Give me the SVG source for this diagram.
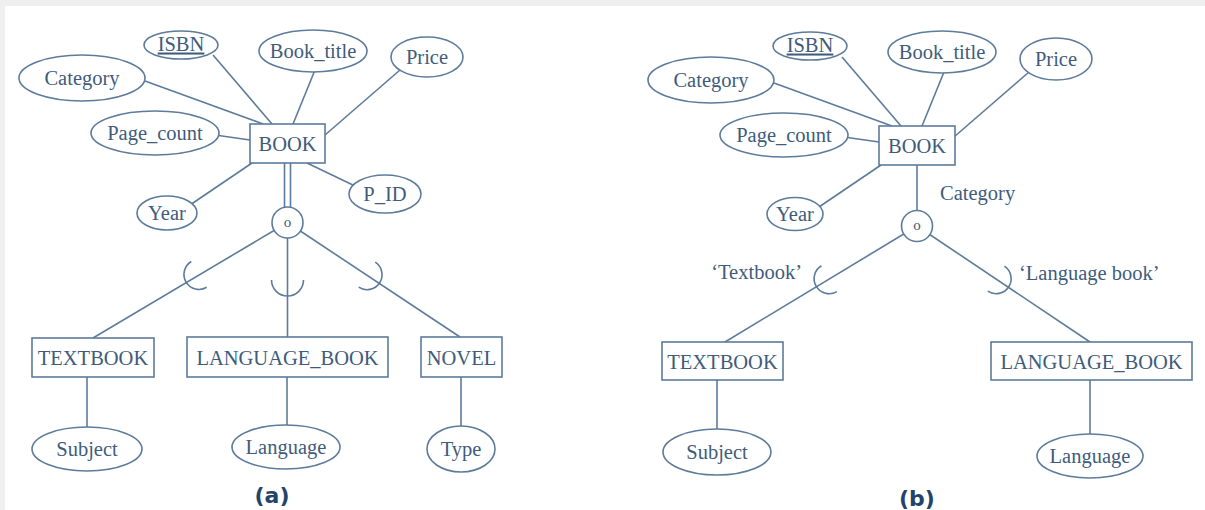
<svg xmlns="http://www.w3.org/2000/svg" width="1205" height="510" viewBox="0 0 1205 510">
<style>
.bg{fill:#ffffff}
.frame{fill:#efefef}
.ln{stroke:#5d7b9b;stroke-width:1.6;fill:none}
.sh{stroke:#5d7b9b;stroke-width:1.6;fill:#ffffff}
.t{font-family:"Liberation Serif","Times New Roman",serif;font-size:20.5px;fill:#405c7a;text-anchor:middle}
.lt{font-family:"Liberation Serif","Times New Roman",serif;font-size:20.5px;fill:#405c7a}
.o{font-family:"Liberation Serif","Times New Roman",serif;font-size:15px;fill:#405c7a;text-anchor:middle}
.cap{font-family:"DejaVu Sans","Verdana",sans-serif;font-size:22px;font-weight:bold;fill:#24436a;text-anchor:middle}
</style>
<rect class="bg" x="0" y="0" width="1205" height="510"/>
<rect class="frame" x="0" y="0" width="1205" height="6"/>
<rect class="frame" x="0" y="0" width="5" height="510"/>

<g id="connectors">
  <!-- (a) attributes -->
  <line class="ln" x1="145" y1="81" x2="263" y2="124"/>
  <line class="ln" x1="213" y1="55" x2="272" y2="124"/>
  <line class="ln" x1="315" y1="70" x2="293" y2="124"/>
  <line class="ln" x1="400" y1="70" x2="325" y2="135"/>
  <line class="ln" x1="215" y1="135" x2="250" y2="140"/>
  <line class="ln" x1="190" y1="205" x2="252" y2="163"/>
  <line class="ln" x1="355" y1="186" x2="307" y2="163"/>
  <!-- (a) double line BOOK to circle -->
  <line class="ln" x1="284.5" y1="163" x2="284.5" y2="208"/>
  <line class="ln" x1="290.5" y1="163" x2="290.5" y2="208"/>
  <!-- (a) specialization lines -->
  <line class="ln" x1="287.5" y1="222.5" x2="93" y2="338"/>
  <line class="ln" x1="287.5" y1="222.5" x2="287.5" y2="337"/>
  <line class="ln" x1="287.5" y1="222.5" x2="460" y2="337"/>
  <!-- (a) subset cups -->
  <path class="ln" d="M191.3,261.5 A15,15 0 0 0 206.7,287.3"/>
  <path class="ln" d="M271.5,280 A16,16 0 0 0 303.5,280"/>
  <path class="ln" d="M375.3,262.2 A15,15 0 0 1 358.7,287.2"/>
  <!-- (a) subclass attributes -->
  <line class="ln" x1="87" y1="377" x2="87" y2="428"/>
  <line class="ln" x1="287" y1="377" x2="287" y2="426"/>
  <line class="ln" x1="461" y1="377" x2="461" y2="427"/>

  <!-- (b) attributes -->
  <line class="ln" x1="774" y1="83" x2="892" y2="126"/>
  <line class="ln" x1="842" y1="57" x2="901" y2="126"/>
  <line class="ln" x1="944" y1="72" x2="922" y2="126"/>
  <line class="ln" x1="1029" y1="72" x2="954" y2="137"/>
  <line class="ln" x1="844" y1="137" x2="879" y2="142"/>
  <line class="ln" x1="819" y1="207" x2="881" y2="165"/>
  <!-- (b) single line BOOK to circle -->
  <line class="ln" x1="917" y1="165" x2="917" y2="211"/>
  <!-- (b) specialization lines -->
  <line class="ln" x1="917" y1="226" x2="725" y2="342"/>
  <line class="ln" x1="917" y1="226" x2="1090" y2="342"/>
  <!-- (b) subset cups -->
  <path class="ln" d="M821.4,265.8 A15,15 0 0 0 836.9,291.6"/>
  <path class="ln" d="M1004.4,266.2 A15,15 0 0 1 987.8,291.2"/>
  <!-- (b) subclass attributes -->
  <line class="ln" x1="717" y1="380" x2="717" y2="430"/>
  <line class="ln" x1="1090" y1="380" x2="1090" y2="435"/>
</g>

<!-- ===== (a) ===== -->
<g id="a-book"><rect class="sh" x="250" y="124" width="75" height="39"/><text class="t" x="287.5" y="150.5">BOOK</text></g>
<g id="a-isbn"><ellipse class="sh" cx="181" cy="45" rx="37" ry="14"/><text class="t" x="181" y="50.5" text-decoration="underline">ISBN</text></g>
<g id="a-booktitle"><ellipse class="sh" cx="313" cy="51" rx="54" ry="21"/><text class="t" x="313" y="57.5">Book_title</text></g>
<g id="a-price"><ellipse class="sh" cx="427" cy="57" rx="36" ry="20"/><text class="t" x="427" y="63.5">Price</text></g>
<g id="a-category"><ellipse class="sh" cx="82" cy="78" rx="63" ry="23"/><text class="t" x="82" y="84.5">Category</text></g>
<g id="a-pagecount"><ellipse class="sh" cx="155" cy="133" rx="64" ry="22"/><text class="t" x="155" y="139.5">Page_count</text></g>
<g id="a-year"><ellipse class="sh" cx="167" cy="213" rx="30" ry="17"/><text class="t" x="167" y="219.5">Year</text></g>
<g id="a-pid"><ellipse class="sh" cx="385" cy="194" rx="36" ry="19"/><text class="t" x="385" y="200.5">P_ID</text></g>
<g id="a-overlap"><circle class="sh" cx="287.5" cy="222.5" r="15.5"/><text class="o" x="287.5" y="226.5">o</text></g>
<g id="a-textbook"><rect class="sh" x="32" y="338" width="122" height="39"/><text class="t" x="93" y="364.5">TEXTBOOK</text></g>
<g id="a-languagebook"><rect class="sh" x="187" y="337" width="201" height="40"/><text class="t" x="287.5" y="364.5">LANGUAGE_BOOK</text></g>
<g id="a-novel"><rect class="sh" x="421" y="337" width="81" height="40"/><text class="t" x="461.5" y="364.5">NOVEL</text></g>
<g id="a-subject"><ellipse class="sh" cx="87" cy="449" rx="55" ry="22"/><text class="t" x="87" y="455.5">Subject</text></g>
<g id="a-language"><ellipse class="sh" cx="286" cy="447" rx="54" ry="22"/><text class="t" x="286" y="453.5">Language</text></g>
<g id="a-type"><ellipse class="sh" cx="461" cy="449" rx="34" ry="23"/><text class="t" x="461" y="455.5">Type</text></g>
<g id="a-caption"><text class="cap" x="272" y="503">(a)</text></g>

<!-- ===== (b) ===== -->
<g id="b-book"><rect class="sh" x="879" y="126" width="76" height="39"/><text class="t" x="917" y="152.5">BOOK</text></g>
<g id="b-isbn"><ellipse class="sh" cx="810" cy="46" rx="37" ry="14"/><text class="t" x="810" y="51.5" text-decoration="underline">ISBN</text></g>
<g id="b-booktitle"><ellipse class="sh" cx="942" cy="52" rx="54" ry="21"/><text class="t" x="942" y="58.5">Book_title</text></g>
<g id="b-price"><ellipse class="sh" cx="1056" cy="59" rx="36" ry="21"/><text class="t" x="1056" y="65.5">Price</text></g>
<g id="b-category"><ellipse class="sh" cx="711" cy="80" rx="63" ry="23"/><text class="t" x="711" y="86.5">Category</text></g>
<g id="b-pagecount"><ellipse class="sh" cx="784" cy="135" rx="64" ry="22"/><text class="t" x="784" y="141.5">Page_count</text></g>
<g id="b-year"><ellipse class="sh" cx="795" cy="214" rx="28" ry="16.5"/><text class="t" x="795" y="220.5">Year</text></g>
<g id="b-catlabel"><text class="lt" x="940" y="200">Category</text></g>
<g id="b-overlap"><circle class="sh" cx="917" cy="226" r="15.5"/><text class="o" x="917" y="230">o</text></g>
<g id="b-textbook-label"><text class="lt" x="802" y="279" text-anchor="end">‘Textbook’</text></g>
<g id="b-langbook-label"><text class="lt" x="1019" y="280">‘Language book’</text></g>
<g id="b-textbook"><rect class="sh" x="662" y="342" width="121" height="38"/><text class="t" x="722.5" y="368.5">TEXTBOOK</text></g>
<g id="b-languagebook"><rect class="sh" x="991" y="342" width="201" height="38"/><text class="t" x="1091.5" y="368.5">LANGUAGE_BOOK</text></g>
<g id="b-subject"><ellipse class="sh" cx="717" cy="452" rx="54" ry="23"/><text class="t" x="717" y="458.5">Subject</text></g>
<g id="b-language"><ellipse class="sh" cx="1090" cy="456" rx="53" ry="22"/><text class="t" x="1090" y="462.5">Language</text></g>
<g id="b-caption"><text class="cap" x="917" y="506">(b)</text></g>
</svg>
